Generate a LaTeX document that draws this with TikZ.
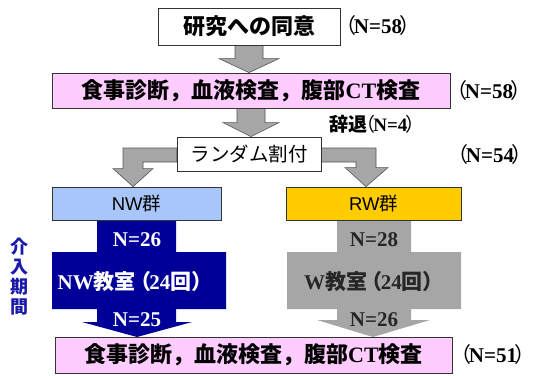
\documentclass[tikz,border=0pt]{standalone}
\usepackage{fontspec}
\setmainfont{Liberation Serif}
\setsansfont{Liberation Sans}
\newfontfamily\jp{Noto Sans CJK JP}
\usetikzlibrary{calc}
\definecolor{pinkbox}{HTML}{FFCCFF}
\definecolor{nwblue}{HTML}{A9C6FA}
\definecolor{rwyellow}{HTML}{FFCC00}
\definecolor{navyarr}{HTML}{000099}
\definecolor{arrgray}{HTML}{A6A6A6}
\definecolor{arredge}{HTML}{555555}
\definecolor{labblue}{HTML}{1A1AAA}
\pgfdeclarelayer{bg}
\pgfsetlayers{bg,main}
\newcommand\fs[1]{\fontsize{#1}{#1}\selectfont}
\newcommand\nlab[1]{{\jp（\kern-0.1em}\textbf{#1}{\jp\kern-0.1em）}}
\begin{document}
\begin{tikzpicture}[x=1pt,y=-1pt,
  box/.style={draw=black!80, line width=0.8pt, inner sep=0pt},
  jptext/.style={font={\jp\bfseries\fs{#1}}},
  nlabel/.style={font={\fs{21}}, inner sep=0pt},
  grayarrow/.style={fill=arrgray, draw=arredge, line width=0.6pt, line join=miter},
  bigtext/.style={inner sep=0pt, font={\bfseries\fs{21}}}
]
\useasboundingbox (0,0) rectangle (537,375);

% boxes
\node[box, fill=white, minimum width=182, minimum height=37, jptext=22] (consent) at (249,26.5) {研究への同意};
\node[box, fill=pinkbox, minimum width=398, minimum height=35, jptext=22] (exam1) at (251,90.5) {食事診断，血液検査，腹部\textrm{CT}検査};
\node[box, fill=white, minimum width=144, minimum height=34, font={\jp\fs{19.5}}] (rand) at (249,154) {ランダム割付};
\node[box, fill=nwblue, minimum width=169, minimum height=33, font={\sffamily\fs{18.5}}] (nw) at (136.5,203.5) {NW{\jp 群}};
\node[box, fill=rwyellow, minimum width=175, minimum height=33, font={\sffamily\fs{18.5}}] (rw) at (373.5,203.5) {RW{\jp 群}};
\node[box, fill=pinkbox, minimum width=397, minimum height=36, jptext=22] (exam2) at (253.5,355) {食事診断，血液検査，腹部\textrm{CT}検査};

% side labels
\node[nlabel] (n58a) at (378,26) {\nlab{N=58}};
\node[nlabel] (n58b) at (489,91) {\nlab{N=58}};
\node[inner sep=0pt, font={\fs{19}}] (wd) at (377,124) {{\jp\bfseries 辞退}{\jp\kern-0.6em}\nlab{N=4}};
\node[nlabel] (n54) at (490,155) {\nlab{N=54}};
\node[nlabel] (n51) at (493,355) {\nlab{N=51}};
\node[text=labblue, font={\jp\bfseries\fs{18}}, align=center, inner sep=0pt] (period) at (19,277) {介\\[2pt]入\\[2pt]期\\[2pt]間};

\begin{pgfonlayer}{bg}
% straight arrows
\path let \p1=(consent.south), \p2=(exam1.north) in
  [grayarrow] (\x1-14pt,\y1) -- (\x1+14pt,\y1) -- (\x1+14pt,\y2+14pt) -- (\x1+30pt,\y2+14pt)
  -- (\x1,\y2) -- (\x1-30pt,\y2+14pt) -- (\x1-14pt,\y2+14pt) -- cycle;
\path let \p1=(exam1.south), \p2=(rand.north) in
  [grayarrow] (\x1-14pt,\y1) -- (\x1+14pt,\y1) -- (\x1+14pt,\y2+14pt) -- (\x1+28pt,\y2+14pt)
  -- (\x1,\y2) -- (\x1-28pt,\y2+14pt) -- (\x1-14pt,\y2+14pt) -- cycle;
% bent arrows
\coordinate (ltip) at (nw.north -| 133,0);
\coordinate (rtip) at (rw.north -| 366,0);
\path let \p1=(rand.west), \p2=(ltip) in
  [grayarrow] (\x1,\y1+6pt) -- (\x2-10pt,\y1+6pt) -- (\x2-10pt,\y2+18pt) -- (\x2-20pt,\y2+18pt)
  -- (\x2,\y2) -- (\x2+20pt,\y2+18pt) -- (\x2+10pt,\y2+18pt) -- (\x2+10pt,\y1-8pt) -- (\x1,\y1-8pt) -- cycle;
\path let \p1=(rand.east), \p2=(rtip) in
  [grayarrow] (\x1,\y1+6pt) -- (\x2+10pt,\y1+6pt) -- (\x2+10pt,\y2+19pt) -- (\x2+22pt,\y2+19pt)
  -- (\x2,\y2) -- (\x2-21pt,\y2+19pt) -- (\x2-10pt,\y2+19pt) -- (\x2-10pt,\y1-8pt) -- (\x1,\y1-8pt) -- cycle;
\end{pgfonlayer}

% big intervention arrows
\fill[navyarr] (97,221) -- (176,221) -- (176,252) -- (226,252) -- (226,309) -- (176,309) -- (176,322)
  -- (192,322) -- (137,337) -- (82,322) -- (97,322) -- (97,309) -- (52,309) -- (52,252) -- (97,252) -- cycle;
\fill[arrgray] (337,221) -- (411,221) -- (411,252) -- (461,252) -- (461,309) -- (411,309) -- (411,320)
  -- (430,320) -- (373,337) -- (317,320) -- (337,320) -- (337,309) -- (287,309) -- (287,252) -- (337,252) -- cycle;

\node[bigtext, text=white] (nwin) at (137,240) {N=26};
\node[bigtext, text=white] (nwcls) at (135,282) {NW{\jp 教室}{\jp\kern-0.25em（\kern-0.1em}24{\jp 回）}};
\node[bigtext, text=white] (nwout) at (137,320) {N=25};
\node[bigtext, text=black!85] (rwin) at (374,240) {N=28};
\node[bigtext, text=black!85] (rwcls) at (374,282) {W{\jp 教室}{\jp\kern-0.25em（\kern-0.1em}24{\jp 回）}};
\node[bigtext, text=black!85] (rwout) at (374,320) {N=26};
\end{tikzpicture}
\end{document}
